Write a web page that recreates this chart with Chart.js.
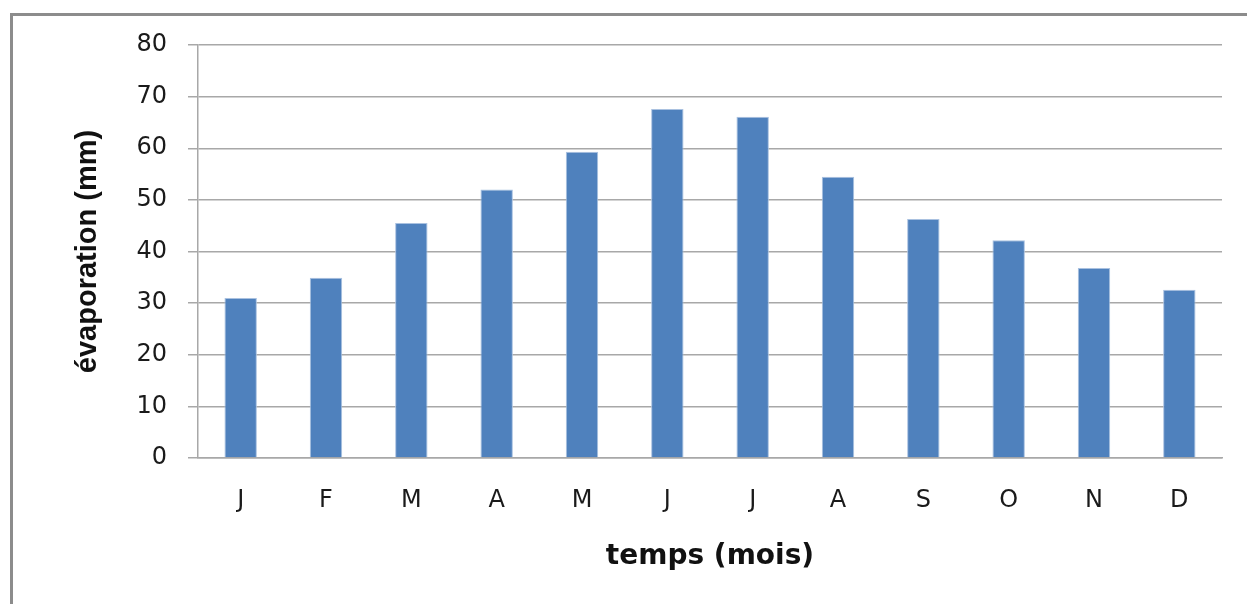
<!DOCTYPE html>
<html>
<head>
<meta charset="utf-8">
<script src="https://cdn.jsdelivr.net/npm/chart.js@4.4.1/dist/chart.umd.min.js"></script>
<style>
  html, body { margin: 0; padding: 0; background: #fff; }
  #wrap { width: 1247px; height: 604px; }
</style>
</head>
<body>
<div id="wrap"><canvas id="evapChart"></canvas></div>
<script>
const months = ['J', 'F', 'M', 'A', 'M', 'J', 'J', 'A', 'S', 'O', 'N', 'D']
const evaporation = [31, 34.9, 45.5, 52, 59.3, 67.6, 66.1, 54.5, 46.3, 42.2, 36.8, 32.6]
const yTicks = [0, 10, 20, 30, 40, 50, 60, 70, 80]

// grey frame around the chart (runs off the right and bottom edge)
const frame = {
  id: 'frame',
  beforeDraw(chart) {
    const c = chart.ctx
    c.save()
    c.strokeStyle = '#8c8c8c'
    c.lineWidth = 3
    c.strokeRect(11.5, 14.5, chart.width + 20, chart.height + 20)
    c.restore()
  }
}

const ctx = document.getElementById('evapChart')
new Chart(ctx, {
  type: 'bar',
  data: {
    labels: months,
    datasets: [{
      label: 'évaporation',
      data: evaporation,
      backgroundColor: '#4F81BD',
      borderColor: '#a9c1e0',
      borderWidth: 1,
      categoryPercentage: 1,
      barPercentage: 0.38
    }]
  },
  options: {
    responsive: true,
    maintainAspectRatio: false,
    animation: false,
    layout: { padding: { top: 45, right: 25, left: 0, bottom: 0 } },
    plugins: {
      legend: { display: false },
      tooltip: { enabled: false }
    },
    scales: {
      x: {
        grid: { display: false, drawTicks: false },
        border: { display: true, color: '#a8a8a8', width: 1.5 },
        ticks: {
          color: '#1a1a1a',
          padding: 28,
          font: { family: 'DejaVu Sans', size: 24 }
        },
        title: {
          display: true,
          text: 'temps (mois)',
          color: '#111',
          padding: { top: 0, bottom: 30 },
          font: { family: 'DejaVu Sans', size: 28, weight: 'bold' }
        },
        afterFit(scale) { scale.height = 146 }
      },
      y: {
        min: 0,
        max: 80,
        afterBuildTicks(scale) { scale.ticks = yTicks.map(v => ({ value: v })) },
        grid: { color: '#a8a8a8', lineWidth: 1.5, drawTicks: true, tickLength: 10 },
        border: { display: true, color: '#a8a8a8', width: 1.5 },
        ticks: {
          color: '#1a1a1a',
          padding: 21,
          font: { family: 'DejaVu Sans', size: 24 }
        },
        title: {
          display: true,
          text: 'évaporation (mm)',
          color: '#111',
          padding: { top: 71, bottom: 0 },
          font: { family: 'Liberation Sans', size: 29, weight: 'bold' }
        },
        afterFit(scale) { scale.width = 198 }
      }
    }
  },
  plugins: [frame]
})
</script>
</body>
</html>
